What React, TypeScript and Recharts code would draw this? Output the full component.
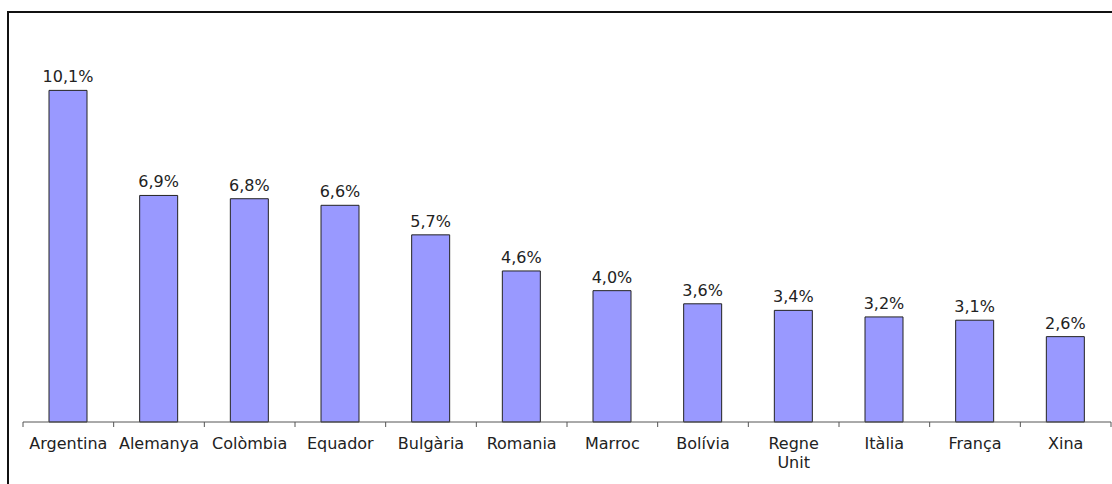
import React from "react"
import { BarChart, Bar, XAxis, YAxis, LabelList } from "recharts"

const countries = [
  "Argentina",
  "Alemanya",
  "Colòmbia",
  "Equador",
  "Bulgària",
  "Romania",
  "Marroc",
  "Bolívia",
  "Regne Unit",
  "Itàlia",
  "França",
  "Xina"
]
const shares = [10.1, 6.9, 6.8, 6.6, 5.7, 4.6, 4.0, 3.6, 3.4, 3.2, 3.1, 2.6]

const FONT = "Verdana, 'DejaVu Sans', sans-serif"

const chartData = countries.map((name, i) => ({ name, value: shares[i] }))

function formatPct(v: number) {
  return v.toFixed(1).replace(".", ",") + "%"
}

// label text plus tick marks on the category boundaries
function CountryTick(props: any) {
  const { x, y, payload, index, visibleTicksCount } = props
  const half = payload.offset ?? 0
  const lines = String(payload.value).split(" ")
  const isLast = index === visibleTicksCount - 1
  return (
    <g>
      <line x1={x - half} x2={x - half} y1={y} y2={y + 5} stroke="#555" />
      {isLast && <line x1={x + half} x2={x + half} y1={y} y2={y + 5} stroke="#555" />}
      <text x={x} y={y} textAnchor="middle" fill="#222" fontSize={16} fontFamily={FONT}>
        {lines.map((line, i) => (
          <tspan key={i} x={x} dy={i === 0 ? 27 : 19}>
            {line}
          </tspan>
        ))}
      </text>
    </g>
  )
}

export default function App() {
  return (
    <div
      style={{
        position: "fixed",
        left: 0,
        top: 0,
        width: 1112,
        height: 484,
        overflow: "hidden",
        background: "#fff"
      }}
    >
      <div
        style={{
          position: "absolute",
          left: 7,
          top: 11,
          width: 1200,
          height: 600,
          border: "2px solid #111",
          boxSizing: "border-box"
        }}
      />
      <div style={{ position: "absolute", left: 8, top: 8 }}>
        <BarChart
          width={1104}
          height={468}
          data={chartData}
          margin={{ top: 20, right: 1, left: 15, bottom: 0 }}
          barCategoryGap={0}
        >
          <XAxis
            dataKey="name"
            interval={0}
            tickLine={false}
            tickSize={0}
            tickMargin={0}
            axisLine={{ stroke: "#555" }}
            tick={<CountryTick />}
            height={54}
          />
          <YAxis hide domain={[0, 12]} />
          <Bar
            dataKey="value"
            fill="#9999ff"
            stroke="#222"
            strokeWidth={1}
            barSize={38}
            isAnimationActive={false}
          >
            <LabelList
              dataKey="value"
              position="top"
              offset={8}
              formatter={(v: any) => formatPct(Number(v))}
              fill="#222"
              fontSize={16}
              fontFamily={FONT}
            />
          </Bar>
        </BarChart>
      </div>
    </div>
  )
}
